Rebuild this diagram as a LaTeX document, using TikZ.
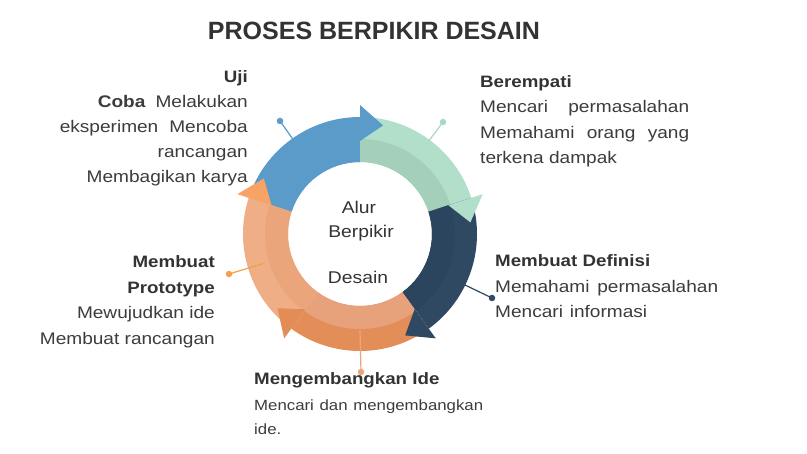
\documentclass[tikz,border=0pt]{standalone}
\usepackage{fontspec}
\setmainfont{Liberation Sans}
\newfontfamily\txtf[FakeStretch=1.135]{Liberation Sans}
\definecolor{blueA}{HTML}{5A9BC9}
\definecolor{greenOut}{HTML}{B2DFCA}
\definecolor{greenIn}{HTML}{A4CFBA}
\definecolor{greenLine}{HTML}{A9D8C3}
\definecolor{navyOut}{HTML}{2F4963}
\definecolor{navyIn}{HTML}{2B455E}
\definecolor{orgOut}{HTML}{E38E59}
\definecolor{orgIn}{HTML}{E7A17B}
\definecolor{orgHead}{HTML}{E38C55}
\definecolor{orgLine}{HTML}{EBA47E}
\definecolor{lorgOut}{HTML}{EFAE86}
\definecolor{lorgIn}{HTML}{EAA57B}
\definecolor{lorgHead}{HTML}{F7A365}
\definecolor{lorgLine}{HTML}{F5A049}
\definecolor{txtgray}{HTML}{3C3C3C}
\definecolor{headgray}{HTML}{333333}
\newcommand\ringseg[4]{%
  \fill[#3] (#1:72pt) arc[start angle=#1,end angle=#2,radius=72pt] -- (#2:117pt) arc[start angle=#2,end angle=#1,radius=117pt] -- cycle;
  \fill[#4] (#1:72pt) arc[start angle=#1,end angle=#2,radius=72pt] -- (#2:95pt) arc[start angle=#2,end angle=#1,radius=95pt] -- cycle;}
\newcommand\ahead[2]{\fill[#2] (#1:93pt) -- (#1:129pt) -- ({#1-12}:111pt) -- cycle;}
\newcommand\jbox[2]{\makebox[#1][s]{#2}}
\tikzset{
  titletxt/.style={font=\bfseries\fontsize{25}{30}\selectfont, text=headgray, inner sep=0pt},
  body/.style={font=\txtf\fontsize{16.8}{20}\selectfont, text=txtgray, inner sep=0pt},
  smallbody/.style={font=\txtf\fontsize{14.8}{17}\selectfont, text=txtgray, inner sep=0pt},
  head/.style={font=\txtf\bfseries\fontsize{16.5}{20}\selectfont, text=headgray, inner sep=0pt},
  centertxt/.style={font=\txtf\fontsize{17}{20}\selectfont, text=headgray, inner sep=0pt, anchor=base},
  dot/.style={circle, fill=#1, inner sep=0pt, minimum size=6.5pt},
  callout/.style={draw=#1, line width=1.2pt},
}
\begin{document}
\begin{tikzpicture}[x=1pt,y=1pt]
\useasboundingbox (0,0) rectangle (807,-454);
\fill[white] (0,0) rectangle (807,-454);
\node[titletxt, anchor=base] (title) at (374,-39.5) {PROSES BERPIKIR DESAIN};
% ring
\begin{scope}[shift={(360,-234)}]
  \ringseg{162}{90}{blueA}{blueA}
  \ringseg{90}{18}{greenOut}{greenIn}
  \ringseg{18}{-54}{navyOut}{navyIn}
  \ringseg{-54}{-126}{orgOut}{orgIn}
  \ringseg{-126}{-198}{lorgOut}{lorgIn}
  \coordinate (cB) at (125.3:116pt);
  \coordinate (cG) at (53.5:116pt);
  \coordinate (cN) at (-25.9:116pt);
  \coordinate (cO) at (-90:96pt);
  \coordinate (cL) at (-163:100pt);
  \ahead{90}{blueA}
  \ahead{18}{greenOut}
  \ahead{-54}{navyOut}
  \ahead{-126}{orgHead}
  \ahead{162}{lorgHead}
  \node[circle, inner sep=0pt, minimum size=144pt] (hub) at (0,0) {};
\end{scope}
% callout dots and lines
\node[dot=blueA] (dB) at (280,-121) {};
\node[dot=greenLine] (dG) at (443,-122) {};
\node[dot=navyOut] (dN) at (492,-298) {};
\node[dot=orgLine] (dO) at (361,-372) {};
\node[dot=lorgLine] (dL) at (229,-274) {};
\draw[callout=blueA] (cB) -- (dB.center);
\draw[callout=greenLine] (cG) -- (dG.center);
\draw[callout=navyOut] (cN) -- (dN.center);
\draw[callout=orgLine] (cO) -- (dO.center);
\draw[callout=lorgLine] (cL) -- (dL.center);
% center text
\node[centertxt] (c1) at (359,-214) {Alur};
\node[centertxt] (c2) at (361,-238) {Berpikir};
\node[centertxt] (c3) at (358,-284) {Desain};
% Uji Coba block
\node[head, anchor=base east] (u1) at (248,-82.5) {Uji};
\node[body, anchor=base east] (u2) at (248,-108) {\jbox{150pt}{\textbf{Coba} Melakukan}};
\node[body, anchor=base east] (u3) at (248,-133) {\jbox{188pt}{eksperimen Mencoba}};
\node[body, anchor=base east] (u4) at (248,-158) {rancangan};
\node[body, anchor=base east] (u5) at (248,-183) {Membagikan karya};
% Berempati block
\node[head, anchor=base west] (b1) at (480,-87.5) {Berempati};
\node[body, anchor=base west] (b2) at (480,-113) {\jbox{209pt}{Mencari permasalahan}};
\node[body, anchor=base west] (b3) at (480,-138.5) {\jbox{209pt}{Memahami orang yang}};
\node[body, anchor=base west] (b4) at (480,-164) {terkena dampak};
% Membuat Prototype block
\node[head, anchor=base east] (p1) at (215,-267.5) {Membuat};
\node[head, anchor=base east] (p2) at (215,-293.5) {Prototype};
\node[body, anchor=base east] (p3) at (215,-318.5) {Mewujudkan ide};
\node[body, anchor=base east] (p4) at (215,-344.5) {Membuat rancangan};
% Membuat Definisi block
\node[head, anchor=base west] (d1) at (495,-267) {Membuat Definisi};
\node[body, anchor=base west] (d2) at (495,-293) {\jbox{223pt}{Memahami permasalahan}};
\node[body, anchor=base west] (d3) at (495,-318) {\jbox{152pt}{Mencari informasi}};
% Mengembangkan Ide block
\node[head, anchor=base west] (m1) at (254,-385) {Mengembangkan Ide};
\node[smallbody, anchor=base west] (m2) at (254,-410.5) {\jbox{229pt}{Mencari dan mengembangkan}};
\node[smallbody, anchor=base west] (m3) at (254,-435) {ide.};
\end{tikzpicture}
\end{document}
